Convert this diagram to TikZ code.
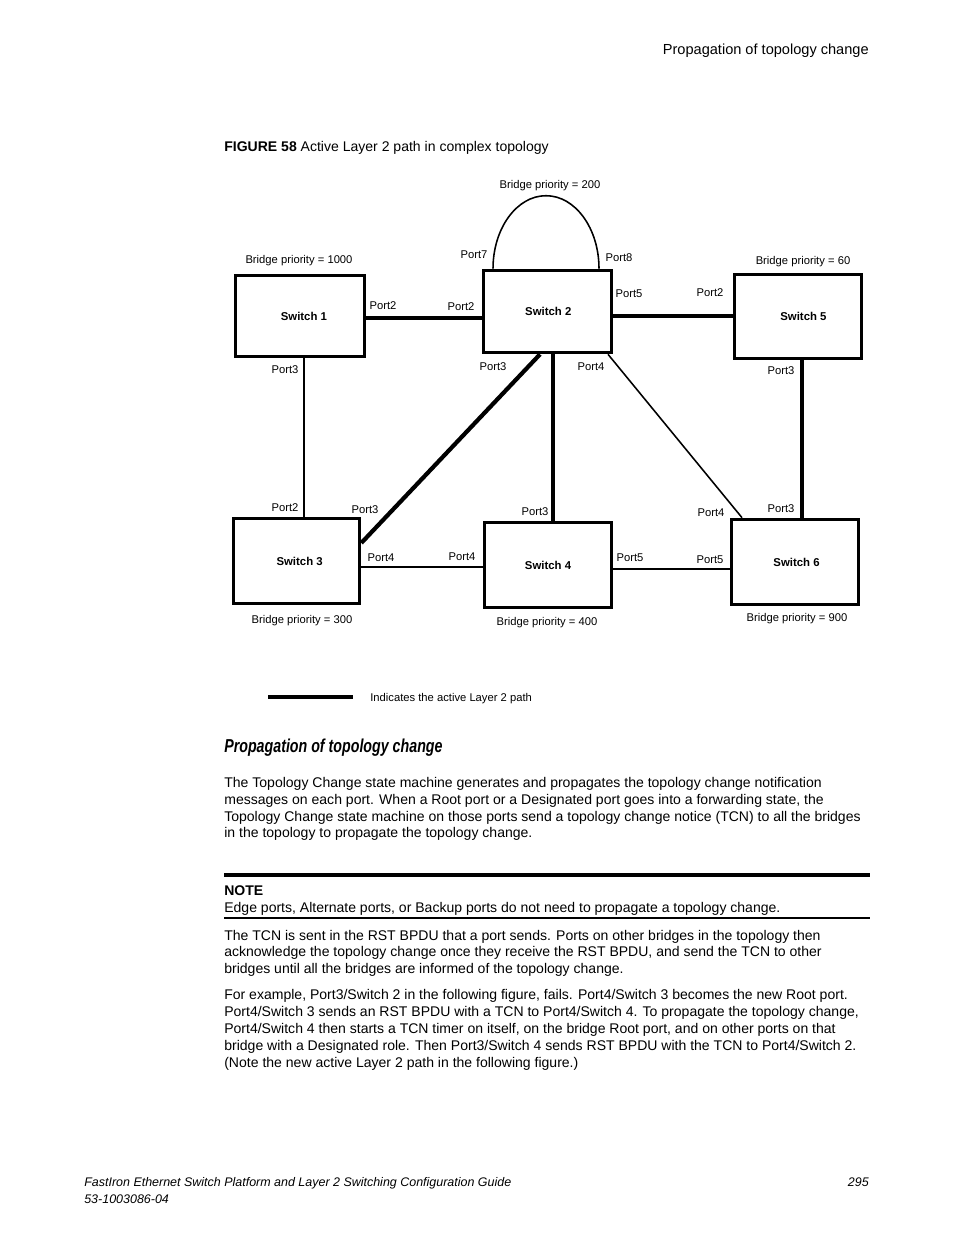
\documentclass[tikz,border=0pt]{standalone}
\usepackage{fontspec}
\setmainfont{Liberation Sans}
\usepackage{graphicx}
\begin{document}
\begin{tikzpicture}[x=0.64151pt,y=-0.64151pt,
  sw/.style={draw, line width=2.3pt, rectangle, inner sep=0pt, font=\fontsize{7.3}{8}\selectfont\bfseries},
  lbl/.style={font=\fontsize{7.2}{8}\selectfont, inner sep=0pt, anchor=mid},
  thicklink/.style={line width=2.7pt},
  thinlink/.style={line width=1.0pt},
  midlink/.style={line width=1.3pt},
  body/.style={font=\fontsize{9}{11}\selectfont, anchor=mid west, inner sep=0pt},
  foot/.style={font=\fontsize{8}{10}\selectfont\itshape, inner sep=0pt}]
\useasboundingbox[fill=white] (0,0) rectangle (954,1235);

% header
\node[font=\fontsize{9.35}{11}\selectfont, anchor=mid east, inner sep=0pt] (hdr) at (869,50) {Propagation of topology change};
\node[body] (cap) at (224,147) {\textbf{FIGURE 58} Active Layer 2 path in complex topology};

% switches
\node[sw, minimum width=129*0.64151pt, minimum height=81*0.64151pt] (s1) at (300,316) {\hspace*{5pt}Switch 1};
\node[sw, minimum width=128*0.64151pt, minimum height=82*0.64151pt] (s2) at (547.5,311.5) {\hspace*{1pt}Switch 2};
\node[sw, minimum width=127*0.64151pt, minimum height=84*0.64151pt] (s5) at (798,316.5) {\hspace*{7pt}Switch 5};
\node[sw, minimum width=126*0.64151pt, minimum height=85*0.64151pt] (s3) at (296.5,561) {\hspace*{4pt}Switch 3};
\node[sw, minimum width=127*0.64151pt, minimum height=85*0.64151pt] (s4) at (548,565) {Switch 4};
\node[sw, minimum width=127*0.64151pt, minimum height=85*0.64151pt] (s6) at (795,562) {\hspace*{2pt}Switch 6};

% helper coordinates
\coordinate (v1) at (304,0);
\coordinate (v2) at (553,0);
\coordinate (v3) at (802,0);
\coordinate (h1) at (0,318);
\coordinate (h2) at (0,316);
\coordinate (h3) at (0,567);
\coordinate (h4) at (0,569);
\coordinate (d1) at (540,0);
\coordinate (d2) at (0,543);
\coordinate (d3) at (608,0);
\coordinate (d4) at (742,0);
\coordinate (a1) at (493,0);

% links
\draw[thinlink, line width=1.2pt] (s1.south -| v1) -- (s3.north -| v1);
\draw[thicklink] (s1.east |- h1) -- (s2.west |- h1);
\draw[thicklink] (s2.east |- h2) -- (s5.west |- h2);
\draw[thicklink] (s2.south -| d1) -- (s3.east |- d2);
\draw[thicklink] (s2.south -| v2) -- (s4.north -| v2);
\draw[thinlink] (s2.south -| d3) -- (s6.north -| d4);
\draw[thicklink] (s5.south -| v3) -- (s6.north -| v3);
\draw[midlink] (s3.east |- h3) -- (s4.west |- h3);
\draw[thinlink] (s4.east |- h4) -- (s6.west |- h4);
\draw[line width=1.0pt] (s2.north -| a1) arc[start angle=180, end angle=0, x radius=53*0.64151pt, y radius=73*0.64151pt];

% labels
\node[lbl] (bp2) at (550,184) {Bridge priority = 200};
\node[lbl] (p7) at (474,254) {Port7};
\node[lbl] (p8) at (619,257) {Port8};
\node[lbl] (bp1) at (299,259) {Bridge priority = 1000};
\node[lbl] (s1p2) at (383,305) {Port2};
\node[lbl] (s2p2) at (461,306) {Port2};
\node[lbl] (s2p5) at (629,293) {Port5};
\node[lbl] (s5p2) at (710,292) {Port2};
\node[lbl] (bp5) at (803,260) {Bridge priority = 60};
\node[lbl] (s1p3) at (285,369) {Port3};
\node[lbl] (s2p3) at (493,366) {Port3};
\node[lbl] (s2p4) at (591,366) {Port4};
\node[lbl] (s5p3) at (781,370) {Port3};
\node[lbl] (s3p2) at (285,507) {Port2};
\node[lbl] (s3p3) at (365,509) {Port3};
\node[lbl] (s4p3) at (535,511) {Port3};
\node[lbl] (s6p4) at (711,512) {Port4};
\node[lbl] (s6p3) at (781,508) {Port3};
\node[lbl] (s3p4) at (381,557) {Port4};
\node[lbl] (s4p4) at (462,556) {Port4};
\node[lbl] (s4p5) at (630,557) {Port5};
\node[lbl] (s6p5) at (710,559) {Port5};
\node[lbl] (bp3) at (302,619) {Bridge priority = 300};
\node[lbl] (bp4) at (547,621) {Bridge priority = 400};
\node[lbl] (bp6) at (797,617) {Bridge priority = 900};

% legend
\coordinate (lg1) at (268,697);
\coordinate (lg2) at (353,697);
\draw[line width=3pt] (lg1) -- (lg2);
\node[lbl, anchor=mid west] (lgt) at (370,697) {Indicates the active Layer 2 path};

% heading
\node[anchor=mid west, inner sep=0pt, font=\fontsize{12}{14}\selectfont\bfseries\itshape] (hd) at (224,748) {\resizebox{140pt}{\height}{Propagation of topology change}};

% paragraph 1
\node[body] (t1) at (224,783) {The Topology Change state machine generates and propagates the topology change notification};
\node[body] (t2) at (224,800) {messages on each port. When a Root port or a Designated port goes into a forwarding state, the};
\node[body] (t3) at (224,817) {Topology Change state machine on those ports send a topology change notice (TCN) to all the bridges};
\node[body] (t4) at (224,833) {in the topology to propagate the topology change.};

% note
\coordinate (n1a) at (224,875);
\coordinate (n1b) at (870,875);
\draw[line width=2pt] (n1a) -- (n1b);
\node[body, font=\fontsize{9}{11}\selectfont\bfseries] (note) at (224,891) {NOTE};
\node[body] (nt) at (224,908) {Edge ports, Alternate ports, or Backup ports do not need to propagate a topology change.};
\coordinate (n2a) at (224,918);
\coordinate (n2b) at (870,918);
\draw[line width=1.3pt] (n2a) -- (n2b);

% paragraph 2
\node[body] (u1) at (224,936) {The TCN is sent in the RST BPDU that a port sends. Ports on other bridges in the topology then};
\node[body] (u2) at (224,952) {acknowledge the topology change once they receive the RST BPDU, and send the TCN to other};
\node[body] (u3) at (224,969) {bridges until all the bridges are informed of the topology change.};

% paragraph 3
\node[body] (w1) at (224,995) {For example, Port3/Switch 2 in the following figure, fails. Port4/Switch 3 becomes the new Root port.};
\node[body] (w2) at (224,1012) {Port4/Switch 3 sends an RST BPDU with a TCN to Port4/Switch 4. To propagate the topology change,};
\node[body] (w3) at (224,1029) {Port4/Switch 4 then starts a TCN timer on itself, on the bridge Root port, and on other ports on that};
\node[body] (w4) at (224,1046) {bridge with a Designated role. Then Port3/Switch 4 sends RST BPDU with the TCN to Port4/Switch 2.};
\node[body] (w5) at (224,1063) {(Note the new active Layer 2 path in the following figure.)};

% footer
\node[foot, anchor=mid west] (f1) at (84,1182) {FastIron Ethernet Switch Platform and Layer 2 Switching Configuration Guide};
\node[foot, anchor=mid west] (f2) at (84,1199) {53-1003086-04};
\node[foot, anchor=mid east] (f3) at (869,1182) {295};
\end{tikzpicture}
\end{document}
